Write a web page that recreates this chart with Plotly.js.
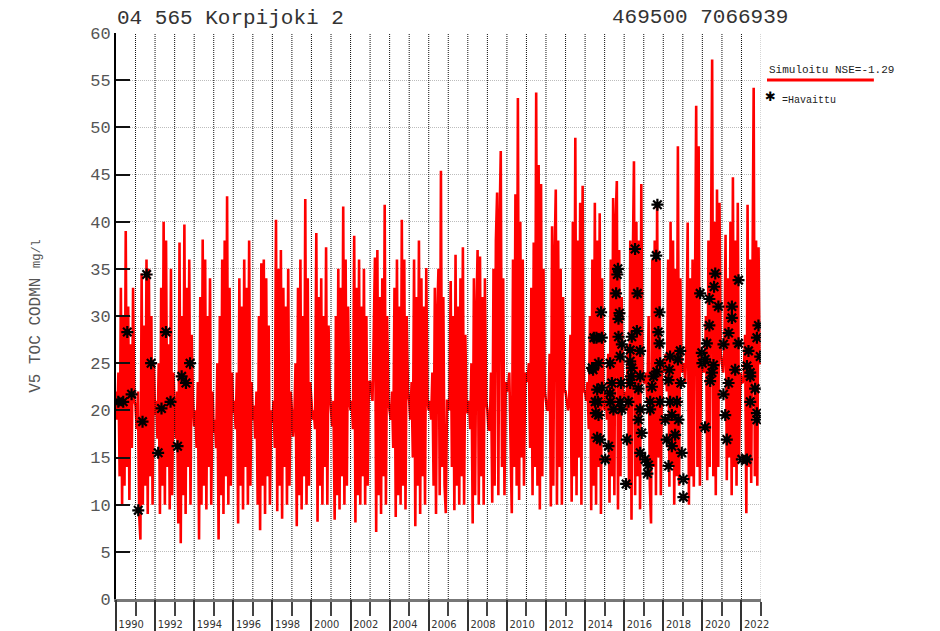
<!DOCTYPE html>
<html>
<head>
<meta charset="utf-8">
<script src="https://cdn.plot.ly/plotly-3.0.1.min.js"></script>
<style>html,body{margin:0;padding:0;background:#fff;}#chart{width:940px;height:631px;}</style>
</head>
<body>
<div id="chart"></div>
<script>
// ---- data ----
const stationTitle = "04 565 Korpijoki 2";
const stationCoords = "469500 7066939";
const simLabel = "Simuloitu NSE=-1.29";
const obsLabel = "=Havaittu";
const yTitle = "V5 TOC CODMN";
const yUnit = "mg/l";

const simStartYear = 1990;
const simPointsPerYear = 16;
const simValues = [
  22, 19, 24, 13, 33, 10, 30, 12, 39, 14, 31, 10.5, 27, 16, 33, 21,        // 1990
  20.5, 18, 22, 9, 6.3, 34.5, 10, 29, 12, 36, 9, 35, 13, 30, 10, 25,       // 1991
  19.5, 21, 17, 25, 9, 33, 12, 40, 10, 38, 14, 27, 9.5, 35, 11, 24,        // 1992
  20, 17, 22, 8, 37.8, 5.9, 30, 11, 39.7, 9, 33, 14, 36, 10, 28, 21,       // 1993
  18.3, 20, 16, 23, 6.3, 32, 10, 38.1, 12, 36, 9.5, 30, 14, 34, 10, 22,    // 1994
  17.6, 19, 16, 25, 6.3, 30, 11, 36, 9, 38, 13, 42.7, 10, 33, 12, 24,      // 1995
  19.7, 21, 18, 24, 8, 34, 12, 31, 9.5, 36, 14, 33, 10, 38, 12, 23,        // 1996
  19, 20.5, 17, 22, 10, 30, 7.3, 35.6, 12, 36, 9, 34, 13, 29, 10, 20,      // 1997
  18.7, 21, 16, 40.2, 9.3, 35, 12, 37, 8.5, 33, 14, 31, 10, 35, 12, 22,    // 1998
  20, 17.2, 19, 25, 7.7, 33, 11, 36, 9.5, 30, 13, 42.4, 10, 34, 12, 23,    // 1999
  21, 19, 20, 18, 38.8, 8.2, 32, 12, 34, 10, 30, 14, 37.3, 10, 29, 22,     // 2000
  20, 18.3, 21, 8.4, 30, 11, 35, 9.5, 33, 13, 41.6, 10, 36, 12, 31, 21,    // 2001
  20, 21, 18, 38.5, 8.1, 33, 11, 36, 10, 31, 13, 35, 10, 30, 12, 23,       // 2002
  23, 22, 21, 28, 36.2, 7.1, 37, 11, 32, 9, 34, 13, 41.8, 10, 30, 21,      // 2003
  20, 19, 22, 16, 33, 8.7, 36, 11, 31, 10, 40.2, 12, 36, 9.5, 30, 22,      // 2004
  21, 19, 23, 15, 36, 7.7, 32, 12, 38, 9, 34, 13, 31, 10, 35.1, 21,        // 2005
  20, 21, 19, 24, 12, 33, 9, 30, 35, 11, 45.4, 14, 32, 12, 9.1, 21,        // 2006
  21, 20, 33.7, 14, 30, 9.4, 36.5, 12, 31, 10, 34, 13, 37.3, 10, 28, 20,   // 2007
  19.7, 21, 18, 25, 8, 34, 11, 30, 37, 10, 36.3, 13, 32, 10, 34, 21,       // 2008
  20, 18, 17.9, 24, 10.2, 35, 12, 38, 43.1, 11, 40, 47.5, 14, 34, 11, 23,  // 2009
  22, 22.5, 24, 18, 9.1, 36, 14, 42.9, 12, 53.1, 10.5, 40, 15, 36, 12, 24, // 2010
  23.6, 23, 25, 16, 33, 11, 37.8, 14, 53.7, 12, 46, 9.5, 44, 13, 35, 22,   // 2011
  21, 20, 20.1, 26, 9.8, 39.5, 12, 36, 43.4, 10, 38, 14, 35, 10, 32, 22,   // 2012
  22, 21, 20, 21.1, 28, 10.3, 40, 13, 48.9, 11, 38, 15, 42, 10, 43.8, 22,  // 2013
  22, 21, 23, 18, 30, 9.4, 36, 12, 42, 10, 38, 14, 40.9, 9, 34, 21,        // 2014
  20, 22, 19, 26, 10.2, 36, 13, 42.5, 11, 40, 44.3, 9.5, 37, 13, 32, 22,   // 2015
  21, 22, 20, 27, 12, 38, 8.4, 35, 46.4, 11, 40, 13, 38, 9.5, 44, 24,      // 2016
  22.9, 23, 24, 21, 30, 12, 8, 36, 14, 38, 11, 42, 15, 36, 11, 25,         // 2017
  25.4, 24, 26, 22, 36, 11.9, 40, 14, 38, 10, 35, 13, 48, 12, 34, 24,      // 2018
  24.3, 25, 23, 27, 39.9, 10, 34, 13, 36, 11.9, 40, 52.3, 14, 48, 12, 26,  // 2019
  24, 25, 24, 30, 12.6, 38, 14, 44, 57.2, 13, 40, 11, 43.4, 14, 42, 26,    // 2020
  25, 24, 26, 38.6, 12.6, 34, 15, 40, 11, 44.7, 14, 38, 12, 42, 15, 24,    // 2021
  23, 22.9, 24, 28, 9.1, 41.8, 14, 36, 12.3, 40, 54.2, 13, 38, 12, 37.3, 25, // 2022
  25                                                                         // end
];

const obsYears = [
  1990.12, 1990.37, 1990.58, 1990.80, 1991.14, 1991.36, 1991.57, 1991.80,
  1992.16, 1992.33, 1992.56, 1992.79, 1993.15, 1993.36, 1993.58, 1993.79,
  2014.36, 2014.41, 2014.45, 2014.52, 2014.55, 2014.58, 2014.62, 2014.62, 2014.66, 2014.69, 2014.69,
  2014.77, 2014.82, 2014.86, 2014.86, 2015.03, 2015.20, 2015.28, 2015.28, 2015.30, 2015.37, 2015.45,
  2015.59, 2015.65, 2015.68, 2015.71, 2015.71, 2015.76, 2015.80, 2015.80, 2015.84, 2015.88, 2015.88,
  2016.10, 2016.14, 2016.22, 2016.31, 2016.31, 2016.31, 2016.35, 2016.39, 2016.39, 2016.56, 2016.65,
  2016.68, 2016.73, 2016.73, 2016.82, 2016.82, 2016.82, 2016.82, 2016.90, 2017.07, 2017.19, 2017.24,
  2017.33, 2017.33, 2017.42, 2017.50, 2017.64, 2017.67, 2017.70, 2017.75, 2017.81, 2017.81, 2017.84,
  2017.84, 2018.10, 2018.18, 2018.27, 2018.27, 2018.31, 2018.35, 2018.35, 2018.44, 2018.44, 2018.61,
  2018.70, 2018.75, 2018.78, 2018.87, 2018.90, 2018.95, 2019.03, 2019.03, 2019.89, 2019.97, 2020.00,
  2020.14, 2020.14, 2020.23, 2020.36, 2020.36, 2020.40, 2020.49, 2020.57, 2020.60, 2020.66, 2020.82,
  2021.08, 2021.08, 2021.17, 2021.25, 2021.34, 2021.34, 2021.51, 2021.51, 2021.68, 2021.85, 2021.85,
  2022.02, 2022.28, 2022.28, 2022.36, 2022.45, 2022.45, 2022.45, 2022.70, 2022.79, 2022.79, 2022.79,
  2022.87, 2022.96
];
const obsValues = [
  20.9, 20.9, 28.3, 21.7, 9.4, 18.8, 34.4, 25.0,
  15.5, 20.2, 28.3, 20.9, 16.2, 23.6, 22.9, 25.0,
  24.5, 24.3, 27.7, 20.9, 19.7, 27.7, 22.2, 17.1, 20.9, 19.5, 25.0,
  16.9, 30.4, 22.4, 27.7, 14.8, 16.2, 21.8, 25.0, 20.9, 22.9, 20.1,
  32.4, 34.4, 35.0, 29.7, 27.8, 30.3, 25.7, 20.9, 22.9, 27.0, 20.1,
  12.2, 16.9, 20.9, 25.2, 26.4, 22.9, 23.6, 24.5, 27.8, 37.1, 28.4,
  32.4, 22.3, 19.0, 26.3, 23.6, 20.1, 15.5, 17.6, 14.8, 13.3, 14.2,
  20.9, 20.1, 22.5, 23.6, 36.4, 24.1, 41.8, 28.3, 30.4, 27.1, 25.0,
  20.9, 19.0, 16.9, 14.1, 23.2, 24.3, 25.7, 20.9, 19.5, 16.2, 17.4,
  20.9, 25.4, 19.0, 26.3, 22.9, 15.5, 12.7, 10.8, 32.4, 26.1, 25.0,
  25.4, 18.2, 27.1, 31.8, 29.0, 23.1, 24.0, 24.8, 33.1, 34.5, 31.0,
  27.0, 21.7, 19.5, 16.9, 28.2, 22.9, 31.0, 29.8, 24.3, 33.8, 27.1,
  14.8, 14.8, 24.7, 26.3, 24.0, 23.6, 20.9, 22.3, 27.7, 19.7, 19.0,
  29.0, 25.7
];

const xStart = "1990-01-01";
const xEnd = "2023-01-01";
const gridYears = [];
for (let y = 1991; y <= 2022; y++) gridYears.push(y);
const labelYears = [1990,1992,1994,1996,1998,2000,2002,2004,2006,2008,2010,2012,2014,2016,2018,2020,2022];

// ---- helpers ----
function decToDate(d) {
  const y = Math.floor(d);
  const s = Date.UTC(y, 0, 1), e = Date.UTC(y + 1, 0, 1);
  return new Date(s + (d - y) * (e - s)).toISOString().slice(0, 10);
}
const simX = simValues.map((v, i) => decToDate(simStartYear + i / simPointsPerYear));
const obsX = obsYears.map(decToDate);

const mono = "Liberation Mono, DejaVu Sans Mono, monospace";
const narrow = "Liberation Sans Narrow, DejaVu Sans Condensed, sans-serif";

const traces = [
  {x: simX, y: simValues, type: "scatter", mode: "lines", name: simLabel,
   line: {color: "#ff0000", width: 2.6}, hoverinfo: "x+y", showlegend: false},
  {x: obsX, y: obsValues, type: "scatter", mode: "markers", name: "Havaittu",
   marker: {symbol: "asterisk-open", size: 10, color: "#000", line: {color: "#000", width: 2.2}},
   showlegend: false},
  {x: [], y: [], xaxis: "x2", yaxis: "y", showlegend: false, hoverinfo: "skip"},
  {x: [], y: [], xaxis: "x3", yaxis: "y", showlegend: false, hoverinfo: "skip"}
];

const shapes = gridYears.map(y => ({
  type: "line", xref: "x", yref: "paper", x0: y + "-01-01", x1: y + "-01-01", y0: 0, y1: 1,
  line: {color: "#111", width: 1, dash: "1px,1px"}, layer: "above"
}));
shapes.push({type: "line", xref: "x", yref: "paper", x0: xEnd, x1: xEnd, y0: 0, y1: 1,
  line: {color: "#aaa", width: 1, dash: "1px,1px"}, layer: "above"});
// legend line
shapes.push({type: "line", xref: "paper", yref: "paper", x0: 1.0093, x1: 1.175, y0: 0.917, y1: 0.917,
  line: {color: "#ff0000", width: 3}});

const layout = {
  width: 940, height: 631,
  margin: {l: 116, r: 179, t: 33, b: 32, autoexpand: false},
  paper_bgcolor: "#fff", plot_bgcolor: "#fff",
  showlegend: false,
  title: {text: stationTitle, x: 117/940, xref: "container", xanchor: "left",
          y: 1 - 17/631, yref: "container", yanchor: "middle",
          font: {family: mono, size: 21, color: "#333"}},
  xaxis: {type: "date", range: [xStart, xEnd], showgrid: false, zeroline: false,
          tick0: xStart, dtick: "M12", ticks: "outside", ticklen: 14, tickwidth: 2, tickcolor: "#444",
          showticklabels: false, showline: true, linecolor: "#777", linewidth: 2.5, automargin: false},
  xaxis2: {type: "date", range: [xStart, xEnd], overlaying: "x", anchor: "y", side: "bottom",
           showgrid: false, zeroline: false, tick0: xStart, dtick: "M24", ticks: "outside",
           ticklen: 32, tickwidth: 2, tickcolor: "#333", showticklabels: false, showline: false, automargin: false},
  xaxis3: {type: "date", range: [xStart, xEnd], overlaying: "x", anchor: "y", side: "bottom",
           showgrid: false, zeroline: false, tickmode: "array",
           tickvals: labelYears.map(y => y + "-10-12"), ticktext: labelYears.map(String),
           ticks: "", ticklabelstandoff: 17, showline: false, automargin: false,
           tickfont: {family: narrow, size: 11, color: "#333"}},
  yaxis: {range: [0, 60], dtick: 5, tick0: 0, ticks: "inside", ticklen: 14, tickwidth: 2, tickcolor: "#111",
          showline: true, linecolor: "#000", linewidth: 2, zeroline: false,
          showgrid: true, gridcolor: "#bdbdbd", gridwidth: 1, griddash: "1px,1px",
          tickfont: {family: mono, size: 17, color: "#555"}, automargin: false,
          title: {text: yTitle + " <span style='font-size:12px'>" + yUnit + "</span>", standoff: 46,
                  font: {family: mono, size: 16, color: "#555"}}},
  annotations: [
    {text: stationCoords, xref: "paper", yref: "paper", x: 1.045, y: 1.028, xanchor: "right", yanchor: "middle",
     showarrow: false, font: {family: mono, size: 21, color: "#333"}},
    {text: simLabel, xref: "paper", yref: "paper", x: 1.0093, y: 0.9346, xanchor: "left", yanchor: "middle",
     showarrow: false, font: {family: mono, size: 11, color: "#222"}},
    {text: "✱", xref: "paper", yref: "paper", x: 1.0155, y: 0.887, xanchor: "center", yanchor: "middle",
     showarrow: false, font: {family: "DejaVu Sans", size: 13, color: "#000"}},
    {text: obsLabel, xref: "paper", yref: "paper", x: 1.029, y: 0.880, xanchor: "left", yanchor: "middle",
     showarrow: false, font: {family: mono, size: 10, color: "#222"}}
  ],
  shapes: shapes
};

Plotly.newPlot("chart", traces, layout, {displayModeBar: false, staticPlot: true});
</script>
</body>
</html>
